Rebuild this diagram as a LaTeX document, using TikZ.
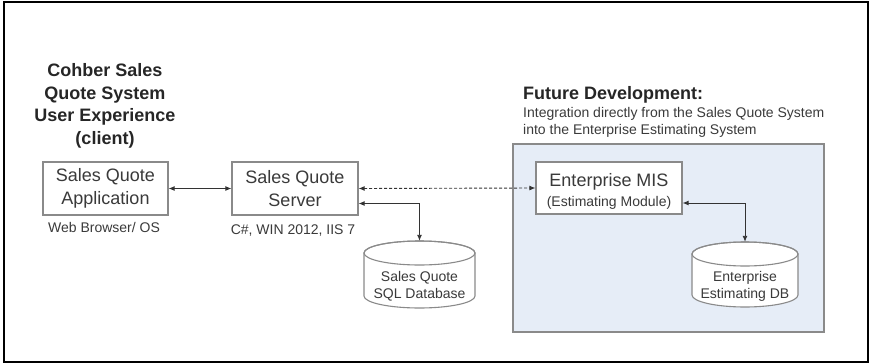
\documentclass[tikz,border=0pt]{standalone}
\usepackage{fontspec}
\setmainfont{Liberation Sans}
\usetikzlibrary{arrows.meta}

\definecolor{edgegray}{HTML}{8A8A8A}
\definecolor{inkgray}{HTML}{3A3A3A}
\definecolor{titleink}{HTML}{262626}
\definecolor{futurefill}{HTML}{E6EDF7}
\definecolor{linegray}{HTML}{333333}

\tikzset{
  compbox/.style={draw=edgegray, line width=1.2pt, fill=white, text=inkgray,
    align=center, inner sep=0pt, font=\fontsize{18}{23}\selectfont},
  sublabel/.style={text=inkgray, inner sep=0pt, font=\fontsize{14}{17}\selectfont},
  heading/.style={text=titleink, inner sep=0pt, font=\fontsize{18}{22.5}\selectfont\bfseries},
  tip/.tip={Latex[length=6pt,width=5pt]},
  link/.style={draw=linegray, line width=0.9pt, tip-tip},
  dashlink/.style={link, dash pattern=on 3pt off 2pt},
  cylline/.style={draw=edgegray, line width=1.1pt},
}

% data store drawn as a cylinder; #1 name, #2 centre x, #3 top y, #4 bottom y,
% #5 half width, #6 cap radius, #7 label
\newcommand\DataStore[7]{%
  \path[cylline, fill=white]
    (#2-#5,#3+#6) -- (#2-#5,#4-#6)
    arc[start angle=180, end angle=0, x radius=#5, y radius=#6]
    -- (#2+#5,#3+#6)
    arc[start angle=0, end angle=-180, x radius=#5, y radius=#6] -- cycle;
  \draw[cylline] (#2,#3+#6) ellipse [x radius=#5, y radius=#6];
  \node[inner sep=0pt, minimum width=2*#5, minimum height=#4-#3] (#1) at (#2,{(#3+#4)/2}) {};
  \node[sublabel, align=center] (#1-text) at (#2,{(#3+#4)/2+12}) {#7};
}

\begin{document}
\begin{tikzpicture}[x=1pt, y=-1pt]
  \useasboundingbox (0,0) rectangle (871,364);
  \draw[black, line width=2pt] (4,2) rectangle (868,362);

  % client side heading
  \node[heading, align=center] (clienthead) at (105,106)
    {Cohber Sales\\Quote System\\User Experience\\(client)};

  % future development region
  \node[draw=edgegray, line width=1.2pt, fill=futurefill, minimum width=311,
        minimum height=188, inner sep=0pt] (future) at (668.5,238) {};
  \node[heading, anchor=base west] (futurehead) at (523,99.5) {Future Development:};
  \node[sublabel, anchor=west, align=left] (futuretext) at (523,122.5)
    {Integration directly from the Sales Quote System\\into the Enterprise Estimating System};

  % components
  \node[compbox, minimum width=125, minimum height=53] (app) at (105.5,188.5)
    {Sales Quote\\Application};
  \node[sublabel] (applabel) at (104,227) {Web Browser/ OS};

  \node[compbox, minimum width=126, minimum height=53] (server) at (295,188.5)
    {Sales Quote\\Server};
  \node[sublabel] (serverlabel) at (293,231) {C\#, WIN 2012, IIS 7};

  \node[compbox, minimum width=146, minimum height=52] (mis) at (609,188) {};
  \node[compbox, draw=none, fill=none] (mistext) at (609,191.5)
    {Enterprise MIS\\[-3pt]{\fontsize{14}{17}\selectfont (Estimating Module)}};

  \DataStore{sqldb}{419.5}{241}{308}{55.5}{12}{Sales Quote\\SQL Database}
  \DataStore{estdb}{745}{242}{307}{53}{12}{Enterprise\\Estimating DB}

  % connections
  \draw[link] (app.east) -- (server.west);
  \draw[dashlink] (server.east) -- (mis.west);
  \draw[link] ([yshift=-15pt]server.east) -| (sqldb.north);
  \draw[link] ([yshift=-15pt]mis.east) -| (estdb.north);
\end{tikzpicture}
\end{document}
